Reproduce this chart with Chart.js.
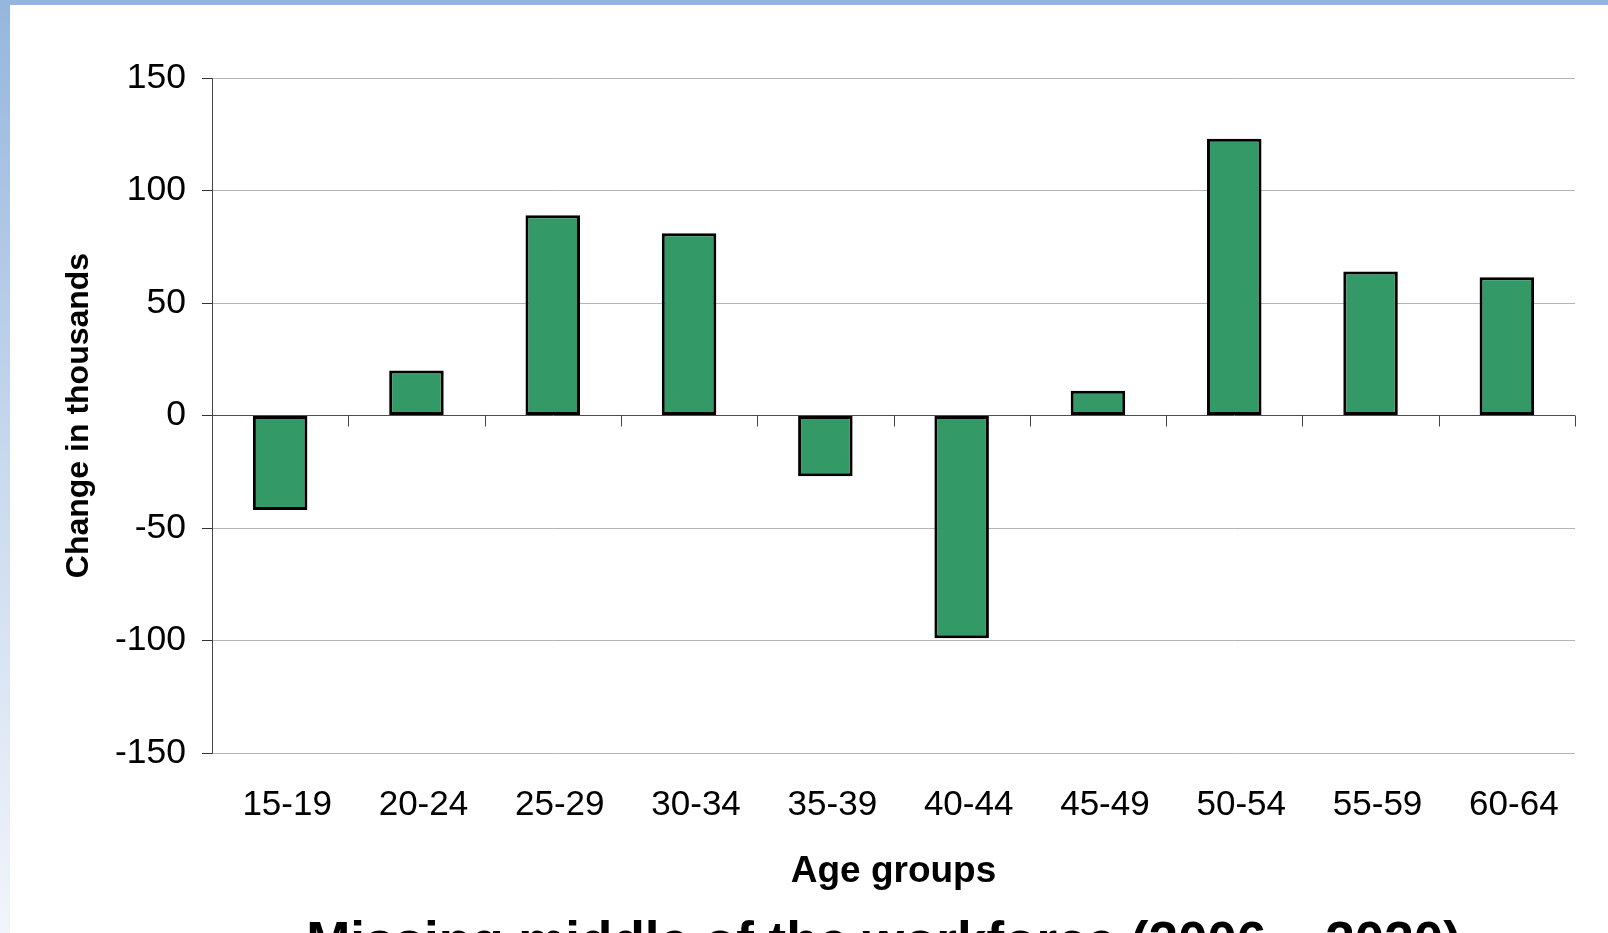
<!DOCTYPE html>
<html>
<head>
<meta charset="utf-8">
<script src="https://cdn.jsdelivr.net/npm/chart.js@4.4.1/dist/chart.umd.min.js"></script>
<style>
  html, body { margin: 0; padding: 0; width: 1608px; height: 933px; overflow: hidden; background: #fff; }
  #frame { position: absolute; left: 0; top: 0; width: 1608px; height: 933px; overflow: hidden; background: #fff; }
  #topBand { position: absolute; left: 0; top: 0; width: 1608px; height: 5px; background: #95b6dc; }
  #leftBand { position: absolute; left: 0; top: 0; width: 10px; height: 933px; background: linear-gradient(#95b6dc, #c9d9ee 50%, #f1f5fb); }
  #wrap { position: absolute; left: 10px; top: 5px; width: 1598px; height: 980px; }
</style>
</head>
<body>
<div id="frame">
  <div id="topBand"></div>
  <div id="leftBand"></div>
  <div id="wrap"><canvas id="myChart"></canvas></div>
</div>
<script>
// data (thousands)
var ageGroups = ['15-19', '20-24', '25-29', '30-34', '35-39', '40-44', '45-49', '50-54', '55-59', '60-64'];
var changeThousands = [-42, 20, 89, 81, -27, -99, 11, 123, 64, 61.5];
var yTicks = [-150, -100, -50, 0, 50, 100, 150];

var chartTitle = 'Missing middle of the workforce (2006 \u2013 2020)';
var xTitle = 'Age groups';
var yTitle = 'Change in thousands';

var fontFamily = '"Liberation Sans", Arial, sans-serif';

// little tick marks hanging under the zero line at the category borders
var zeroTicks = {
    id: 'zeroTicks',
    afterLayout: function (chart) {
        // title sits a bit left of the plot centre in the original
        if (chart.titleBlock) {
            chart.titleBlock.left -= 10;
            chart.titleBlock.right -= 10;
        }
    },
    beforeDatasetsDraw: function (chart) {
        var xs = chart.scales.x, ys = chart.scales.y;
        var y0 = ys.getPixelForValue(0);
        var ctx = chart.ctx;
        ctx.save();
        ctx.strokeStyle = '#444';
        ctx.lineWidth = 1;
        ctx.beginPath();
        for (var i = 1; i <= ageGroups.length; i++) {
            var px;
            if (i == ageGroups.length) px = xs.right;
            else px = (xs.getPixelForValue(i - 1) + xs.getPixelForValue(i)) / 2;
            px = Math.round(px) + 0.5;
            ctx.moveTo(px, y0);
            ctx.lineTo(px, y0 + 11);
        }
        ctx.stroke();
        ctx.restore();
    }
};

var ctx = document.getElementById('myChart').getContext('2d');
var chart = new Chart(ctx, {
    type: 'bar',
    data: {
        labels: ageGroups,
        datasets: [{
            data: changeThousands,
            backgroundColor: '#339966',
            borderColor: '#000',
            borderWidth: 3,
            borderSkipped: false,
            barPercentage: 0.4,
            categoryPercentage: 1
        }]
    },
    options: {
        responsive: true,
        maintainAspectRatio: false,
        animation: false,
        layout: { padding: { top: 73, right: 33, left: 0, bottom: 0 } },
        plugins: {
            legend: { display: false },
            tooltip: { enabled: false },
            title: {
                display: true,
                text: chartTitle,
                position: 'bottom',
                fullSize: false,
                color: '#000',
                font: { family: fontFamily, size: 53, weight: 'bold', lineHeight: 1.2 },
                padding: { top: 18, bottom: 9 }
            }
        },
        scales: {
            x: {
                grid: { display: false, drawTicks: false },
                border: { display: false },
                ticks: {
                    color: '#000',
                    padding: 31.5,
                    labelOffset: 7,
                    autoSkip: false,
                    maxRotation: 0,
                    font: { family: fontFamily, size: 35 }
                },
                title: {
                    display: true,
                    text: xTitle,
                    color: '#000',
                    font: { family: fontFamily, size: 37, weight: 'bold', lineHeight: 1.2 },
                    padding: { top: 20, bottom: 0.5 }
                },
                afterFit: function (scale) { scale.height = 141.4; }
            },
            y: {
                min: -150,
                max: 150,
                afterBuildTicks: function (scale) {
                    scale.ticks = yTicks.map(function (v) { return { value: v }; });
                },
                grid: {
                    color: function (c) { return c.tick && c.tick.value === 0 ? '#4d4d4d' : '#b4b4b4'; },
                    lineWidth: 1,
                    drawTicks: true,
                    tickLength: 10,
                    tickColor: '#333'
                },
                border: { display: true, color: '#444', width: 1 },
                ticks: {
                    color: '#000',
                    padding: 16,
                    font: { family: fontFamily, size: 35.5 }
                },
                title: {
                    display: true,
                    text: yTitle,
                    color: '#000',
                    font: { family: fontFamily, size: 32, weight: 'bold', lineHeight: 1.2 },
                    padding: { top: 50, bottom: 19 }
                },
                afterFit: function (scale) { scale.width = 202; }
            }
        }
    },
    plugins: [zeroTicks]
});
</script>
</body>
</html>
